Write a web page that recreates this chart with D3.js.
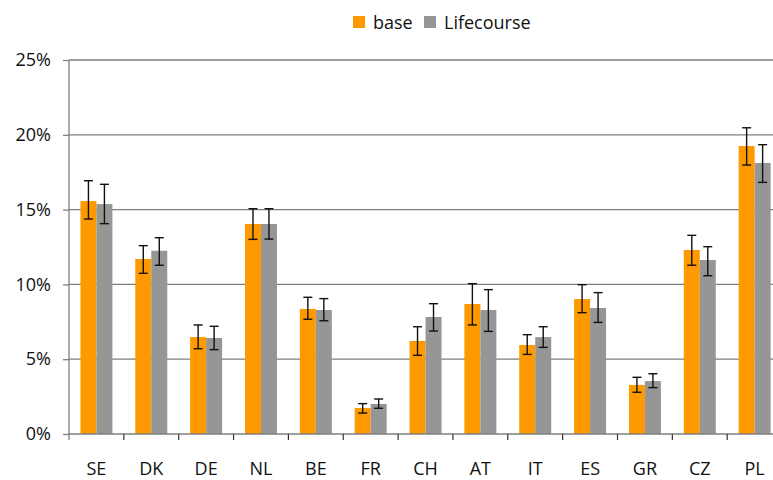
<!DOCTYPE html>
<html>
<head>
<meta charset="utf-8">
<script src="https://cdn.jsdelivr.net/npm/d3@7"></script>
<style>
  body { margin: 0; background: #fff; }
  svg { display: block; font-family: "Open Sans", sans-serif; }
</style>
</head>
<body>
<svg id="chart" width="773" height="480"></svg>
<script>
// countries along the x axis
const countries = ['SE', 'DK', 'DE', 'NL', 'BE', 'FR', 'CH', 'AT', 'IT', 'ES', 'GR', 'CZ', 'PL'];

// base series (%), with lower / upper ends of the error bars
const baseValues = [15.57, 11.70, 6.48, 14.04, 8.36, 1.74, 6.22, 8.69, 5.95, 9.02, 3.28, 12.30, 19.25];
const baseLow    = [14.37, 10.74, 5.70, 13.01, 7.67, 1.40, 5.26, 7.29, 5.32, 8.11, 2.79, 11.28, 17.98];
const baseHigh   = [16.93, 12.59, 7.29, 15.06, 9.14, 2.03, 7.17, 10.05, 6.64, 9.98, 3.79, 13.28, 20.47];

// Lifecourse series (%)
const lifeValues = [15.37, 12.25, 6.42, 14.04, 8.29, 2.01, 7.82, 8.29, 6.48, 8.42, 3.54, 11.63, 18.12];
const lifeLow    = [14.06, 11.28, 5.64, 13.03, 7.57, 1.72, 6.88, 6.86, 5.79, 7.46, 3.10, 10.58, 16.82];
const lifeHigh   = [16.69, 13.12, 7.20, 15.06, 9.05, 2.34, 8.71, 9.65, 7.17, 9.45, 4.03, 12.52, 19.34];

const yTicks = [0, 5, 10, 15, 20, 25];

const series = [
    { name: 'base', color: '#FF9900', values: baseValues, low: baseLow, high: baseHigh },
    { name: 'Lifecourse', color: '#969696', values: lifeValues, low: lifeLow, high: lifeHigh }
];

const svg = d3.select('#chart');
const margin = { left: 69, top: 60, bottom: 46 };
const bandWidth = 54.85;
const plotW = bandWidth * countries.length;
const plotH = 480 - margin.top - margin.bottom;
const fontSize = 18;

const x = d3.scaleBand()
    .domain(countries)
    .range([margin.left, margin.left + plotW])
    .paddingInner(0.417)
    .paddingOuter(0.2085);

const xSub = d3.scaleBand()
    .domain(series.map(s => s.name))
    .range([0, x.bandwidth()]);

const y = d3.scaleLinear()
    .domain([0, 25])
    .range([margin.top + plotH, margin.top]);

const gridColor = '#7f7f7f';

// horizontal gridlines
svg.append('g')
    .selectAll('line')
    .data(yTicks.filter(t => t > 0))
    .join('line')
    .attr('x1', margin.left)
    .attr('x2', margin.left + plotW)
    .attr('y1', d => y(d))
    .attr('y2', d => y(d))
    .attr('stroke', gridColor)
    .attr('stroke-width', 1.3);

// bars
series.forEach(s => {
    svg.append('g')
        .selectAll('rect')
        .data(countries)
        .join('rect')
        .attr('x', c => x(c) + xSub(s.name))
        .attr('width', xSub.bandwidth())
        .attr('y', (c, i) => y(s.values[i]))
        .attr('height', (c, i) => y(0) - y(s.values[i]))
        .attr('fill', s.color);
});

// error bars
series.forEach(s => {
    const g = svg.append('g').attr('stroke', '#111').attr('stroke-width', 1.4);
    countries.forEach((c, i) => {
        const cx = x(c) + xSub(s.name) + xSub.bandwidth() / 2;
        g.append('line').attr('x1', cx).attr('x2', cx)
            .attr('y1', y(s.low[i])).attr('y2', y(s.high[i]));
        [s.low[i], s.high[i]].forEach(v => {
            g.append('line').attr('x1', cx - 4.5).attr('x2', cx + 4.5)
                .attr('y1', y(v)).attr('y2', y(v));
        });
    });
});

// y axis
const yAxis = svg.append('g')
    .attr('transform', `translate(${margin.left},0)`)
    .call(d3.axisLeft(y).tickValues(yTicks).tickFormat(d => d + '%').tickSize(6).tickPadding(12));
yAxis.select('.domain').remove();
yAxis.selectAll('.tick line').attr('stroke', gridColor).attr('stroke-width', 1.3);
yAxis.selectAll('.tick text').attr('font-size', fontSize).attr('fill', '#111').attr('font-family', '"Open Sans", sans-serif');
yAxis.append('line')
    .attr('x1', 0).attr('x2', 0)
    .attr('y1', y(25)).attr('y2', y(0) + 6)
    .attr('stroke', gridColor).attr('stroke-width', 1.3);

// x axis
const xAxis = svg.append('g')
    .attr('transform', `translate(0,${y(0)})`);
xAxis.append('line')
    .attr('x1', margin.left).attr('x2', margin.left + plotW)
    .attr('stroke', gridColor).attr('stroke-width', 1.3);
xAxis.selectAll('line.sep')
    .data(countries.slice(1))
    .join('line')
    .attr('class', 'sep')
    .attr('x1', c => x(c) - x.step() * x.paddingInner() / 2)
    .attr('x2', c => x(c) - x.step() * x.paddingInner() / 2)
    .attr('y1', 0).attr('y2', 6)
    .attr('stroke', '#333').attr('stroke-width', 1.2);
xAxis.selectAll('text')
    .data(countries)
    .join('text')
    .attr('x', c => x(c) + x.bandwidth() / 2)
    .attr('y', 41)
    .attr('text-anchor', 'middle')
    .attr('font-size', fontSize)
    .attr('fill', '#111')
    .text(c => c);

// legend
const legend = svg.append('g').attr('transform', 'translate(353,16)');
const legendX = [0, 71];
series.forEach((s, i) => {
    legend.append('rect')
        .attr('x', legendX[i]).attr('y', 0)
        .attr('width', 12).attr('height', 12)
        .attr('fill', s.color);
    legend.append('text')
        .attr('x', legendX[i] + 20).attr('y', 12.5)
        .attr('font-size', fontSize)
        .attr('fill', '#111')
        .text(s.name);
});
</script>
</body>
</html>
